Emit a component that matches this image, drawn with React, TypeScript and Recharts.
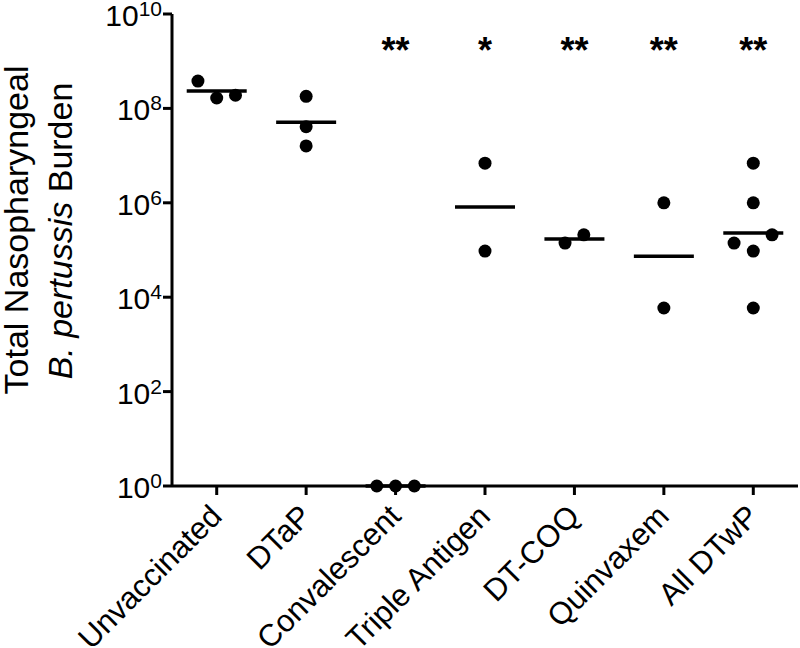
import { ScatterChart, Scatter, XAxis, YAxis } from "recharts";

const categories = [
  "Unvaccinated",
  "DTaP",
  "Convalescent",
  "Triple Antigen",
  "DT-COQ",
  "Quinvaxem",
  "All DTwP",
];

// CFU per animal
const burdens = [
  [3.8e8, 1.66e8, 1.9e8],
  [1.8e8, 4.1e7, 1.6e7],
  [1, 1, 1],
  [6.9e6, 9.5e4],
  [1.4e5, 2.1e5],
  [1.0e6, 5.9e3],
  [6.9e6, 1.0e6, 1.4e5, 2.1e5, 9.5e4, 5.9e3],
];

// horizontal spread of overlapping dots, in category widths
const spread = [
  [-0.21, 0, 0.21],
  [0, 0, 0],
  [-0.21, 0, 0.21],
  [0, 0],
  [-0.105, 0.105],
  [0, 0],
  [0, 0, -0.215, 0.21, 0, 0],
];

const groupMeans = [2.34e8, 5.1e7, 1, 8.1e5, 1.7e5, 7.4e4, 2.3e5];
const significance = ["", "", "**", "*", "**", "**", "**"];
const yTicks = [1, 1e2, 1e4, 1e6, 1e8, 1e10];

const STAR_LEVEL = 1e9;
const FONT = "'Liberation Sans', Arial, Helvetica, sans-serif";

const points = burdens.flatMap((vals, i) =>
  vals.map((v, j) => ({ x: i + spread[i][j], y: v }))
);
const means = groupMeans.map((v, i) => ({ x: i, y: v }));
const stars = significance.map((s, i) => ({ x: i, y: STAR_LEVEL, label: s }));

function Dot(props: any) {
  const { cx, cy } = props;
  return <circle cx={cx} cy={cy} r={6.5} fill="#000" />;
}

function MeanBar(props: any) {
  const { cx, cy } = props;
  return (
    <line x1={cx - 30} x2={cx + 30} y1={cy} y2={cy} stroke="#000" strokeWidth={3.5} />
  );
}

function Star(props: any) {
  const { cx, cy, payload } = props;
  return (
    <text
      x={cx}
      y={cy + 2}
      textAnchor="middle"
      fontSize={36}
      fontWeight="bold"
      fontFamily={FONT}
      fill="#000"
    >
      {payload.label}
    </text>
  );
}

function YTick(props: any) {
  const { x, y, payload } = props;
  const exp = Math.round(Math.log10(payload.value));
  return (
    <text x={x + 1} y={y + 12} textAnchor="end" fontFamily={FONT} fill="#000">
      <tspan fontSize={30}>10</tspan>
      <tspan fontSize={21} dy={-10}>
        {exp}
      </tspan>
    </text>
  );
}

function XTick(props: any) {
  const { x, y, payload } = props;
  return (
    <text
      transform={`translate(${x + 7},${y + 21}) rotate(-45)`}
      textAnchor="end"
      fontSize={31}
      fontFamily={FONT}
      fill="#000"
    >
      {categories[payload.value]}
    </text>
  );
}

function YTitle() {
  return (
    <g fontFamily={FONT} fontSize={34} fill="#000">
      <text transform="translate(28,230) rotate(-90)" textAnchor="middle">
        Total Nasopharyngeal
      </text>
      <text transform="translate(72,231) rotate(-90)" textAnchor="middle">
        <tspan fontStyle="italic">B. pertussis</tspan> Burden
      </text>
    </g>
  );
}

export default function App() {
  return (
    <div style={{ position: "absolute", left: 0, top: 0, background: "#fff" }}>
      <ScatterChart
        width={800}
        height={648}
        margin={{ top: 14, right: 2, bottom: 0, left: 0 }}
      >
        <XAxis
          type="number"
          dataKey="x"
          domain={[-0.5, 6.5]}
          ticks={[0, 1, 2, 3, 4, 5, 6]}
          interval={0}
          height={162}
          tickSize={9}
          tick={<XTick />}
          axisLine={{ stroke: "#000", strokeWidth: 3 }}
          tickLine={{ stroke: "#000", strokeWidth: 3 }}
        />
        <YAxis
          type="number"
          dataKey="y"
          scale="log"
          domain={[1, 1e10]}
          ticks={yTicks}
          interval={0}
          width={172}
          tickSize={9}
          tick={<YTick />}
          axisLine={{ stroke: "#000", strokeWidth: 3 }}
          tickLine={{ stroke: "#000", strokeWidth: 3 }}
          label={{ content: <YTitle /> }}
        />
        <Scatter data={means} shape={<MeanBar />} isAnimationActive={false} />
        <Scatter data={points} shape={<Dot />} isAnimationActive={false} />
        <Scatter data={stars} shape={<Star />} isAnimationActive={false} />
      </ScatterChart>
    </div>
  );
}
